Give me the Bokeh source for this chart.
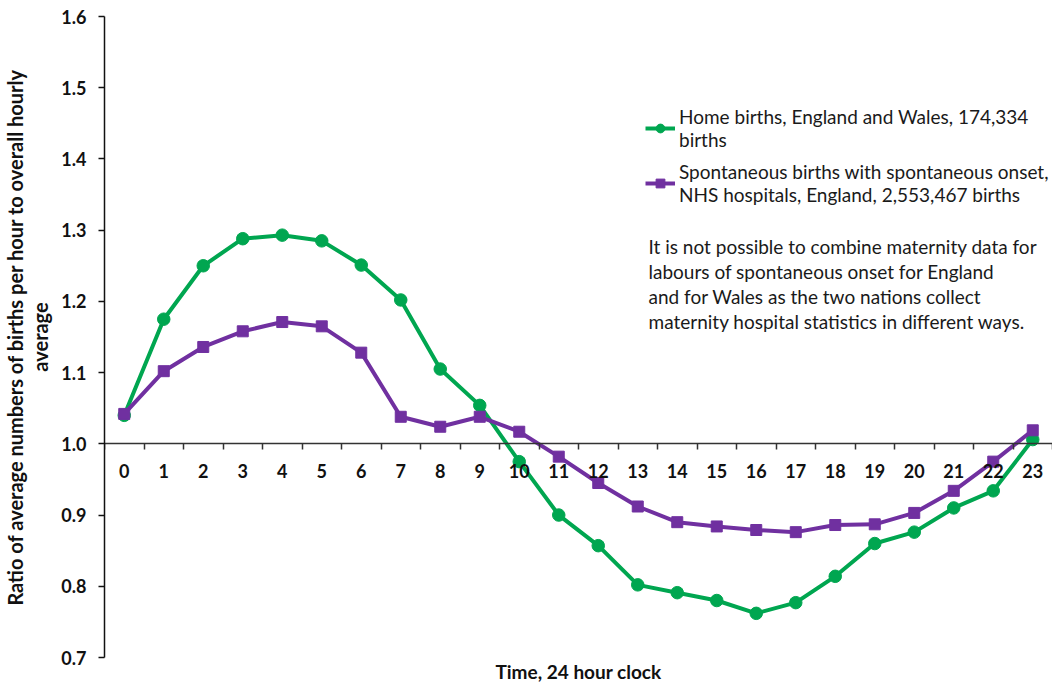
from bokeh.plotting import figure
from bokeh.models import FixedTicker, Legend, LegendItem, Label, Range1d, Title
from bokeh.embed import file_html
from bokeh.resources import INLINE

hours = list(range(24))
hour_labels = [str(h) for h in hours]
home_births = [1.040, 1.175, 1.250, 1.288, 1.293, 1.285, 1.251, 1.202, 1.105, 1.054,
               0.975, 0.900, 0.857, 0.802, 0.791, 0.780, 0.762, 0.777, 0.814, 0.860,
               0.876, 0.910, 0.934, 1.006]
spontaneous = [1.042, 1.102, 1.136, 1.158, 1.171, 1.165, 1.128, 1.038, 1.024, 1.038,
               1.017, 0.982, 0.945, 0.912, 0.890, 0.884, 0.879, 0.876, 0.886, 0.887,
               0.903, 0.934, 0.975, 1.019]
y_ticks = [0.7, 0.8, 0.9, 1.0, 1.1, 1.2, 1.3, 1.4, 1.5, 1.6]
y_tick_labels = ["0.7", "0.8", "0.9", "1.0", "1.1", "1.2", "1.3", "1.4", "1.5", "1.6"]
series_names = ["Home births, England and Wales, 174,334\nbirths",
                "Spontaneous births with spontaneous onset,\nNHS hospitals, England, 2,553,467 births"]
note_text = ("It is not possible to combine maternity data for\n"
             "labours of spontaneous onset for England\n"
             "and for Wales as the two nations collect\n"
             "maternity hospital statistics in different ways.")
x_title = "Time, 24 hour clock"
y_title = "Ratio of average numbers of births per hour to overall hourly\naverage"

GREEN = "#00A650"
PURPLE = "#7030A0"
FONT = "Lato"
FW, FH = 948, 641

p = figure(frame_width=FW, frame_height=FH, output_backend="svg", toolbar_location=None,
           x_range=Range1d(-0.5, 23.5), y_range=Range1d(0.7, 1.6),
           min_border_left=104, min_border_top=16, min_border_right=0, min_border_bottom=0)
p.outline_line_color = None
p.xgrid.grid_line_color = None
p.ygrid.grid_line_color = None
p.background_fill_color = "white"
p.border_fill_color = "white"

# X axis drawn at y = 1.0
xa = p.xaxis[0]
xa.fixed_location = 1.0
xa.ticker = FixedTicker(ticks=hours, minor_ticks=[h - 0.5 for h in range(25)])
xa.major_label_overrides = {h: lab for h, lab in zip(hours, hour_labels)}
xa.major_tick_out = 0
xa.major_tick_in = 0
xa.minor_tick_out = 6
xa.minor_tick_in = 0
xa.minor_tick_line_color = "#333333"
xa.minor_tick_line_width = 1.5
xa.axis_line_color = "#333333"
xa.axis_line_width = 1.5
xa.major_label_standoff = 14
xa.major_label_text_font = FONT
xa.major_label_text_font_style = "bold"
xa.major_label_text_font_size = "18px"
xa.major_label_text_color = "#111111"

# Y axis
ya = p.yaxis[0]
ya.ticker = FixedTicker(ticks=y_ticks)
ya.major_label_overrides = {t: lab for t, lab in zip(y_ticks, y_tick_labels)}
ya.major_tick_out = 6
ya.major_tick_in = 0
ya.minor_tick_out = 0
ya.minor_tick_in = 0
ya.axis_line_color = "#111111"
ya.axis_line_width = 1.5
ya.major_tick_line_color = "#111111"
ya.major_tick_line_width = 1.5
ya.major_label_standoff = 12
ya.major_label_text_font = FONT
ya.major_label_text_font_style = "bold"
ya.major_label_text_font_size = "18px"
ya.major_label_text_color = "#111111"
ya.axis_label = y_title
ya.axis_label_text_font = FONT
ya.axis_label_text_font_style = "bold"
ya.axis_label_text_font_size = "20px"
ya.axis_label_text_color = "#111111"
ya.axis_label_text_line_height = 1.05
ya.axis_label_standoff = 6

# x-axis title below the frame
p.add_layout(Title(text=x_title, align="center", text_font=FONT, text_font_style="bold",
                   text_font_size="19px", text_color="#111111", standoff=0, offset=0), "below")

l1 = p.line(hours, home_births, line_color=GREEN, line_width=4)
m1 = p.scatter(hours, home_births, marker="circle", size=12.5, fill_color=GREEN, line_color=GREEN)
l2 = p.line(hours, spontaneous, line_color=PURPLE, line_width=4)
m2 = p.scatter(hours, spontaneous, marker="square", size=11, fill_color=PURPLE, line_color=PURPLE)

legend = Legend(items=[LegendItem(label=series_names[0], renderers=[l1, m1]),
                       LegendItem(label=series_names[1], renderers=[l2, m2])],
                location=(541, 451), padding=0, margin=0, spacing=9,
                glyph_width=30, glyph_height=22, label_standoff=4,
                label_text_font=FONT, label_text_font_size="19px",
                label_text_color="#1a1a1a", label_text_line_height=1.3,
                border_line_color=None, background_fill_alpha=0)
p.add_layout(legend)

p.add_layout(Label(x=544, y=423, x_units="screen", y_units="screen", text=note_text,
                   text_font=FONT, text_font_size="19px", text_color="#1a1a1a",
                   text_baseline="top", text_line_height=1.1))

open("out.html", "w").write(file_html(p, INLINE))
